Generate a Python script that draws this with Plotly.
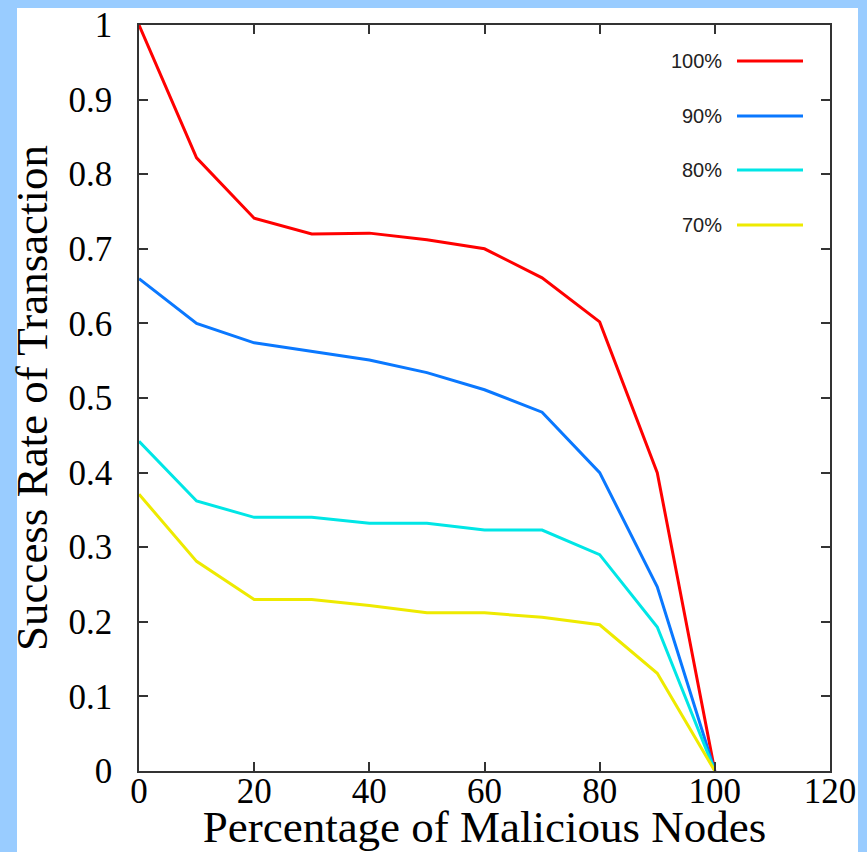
import plotly.graph_objects as go

x_pct = [0, 10, 20, 30, 40, 50, 60, 70, 80, 90, 100]
names = ["100%", "90%", "80%", "70%"]
s100 = [1.0, 0.822, 0.741, 0.72, 0.721, 0.712, 0.70, 0.661, 0.602, 0.40, 0.0]
s90 = [0.66, 0.60, 0.574, 0.562, 0.551, 0.534, 0.511, 0.481, 0.40, 0.247, 0.0]
s80 = [0.442, 0.362, 0.34, 0.34, 0.332, 0.332, 0.323, 0.323, 0.29, 0.193, 0.0]
s70 = [0.371, 0.281, 0.23, 0.23, 0.222, 0.212, 0.212, 0.206, 0.196, 0.131, 0.0]
colors = ["#ff0000", "#0a78ff", "#00e6e6", "#eeea00"]
series = [s100, s90, s80, s70]

W, H = 867, 852
L, R, T, B = 139, 37, 25, 81
pw, ph = W - L - R, H - T - B

def px2x(p):
    return (p - L) / pw

def py2y(p):
    return (H - B - p) / ph

fig = go.Figure()
for nm, ys, c in zip(names, series, colors):
    fig.add_trace(go.Scatter(x=x_pct, y=ys, mode="lines", name=nm,
                             line=dict(color=c, width=3), showlegend=False))

# white panel on blue page
fig.add_shape(type="rect", xref="paper", yref="paper",
              x0=px2x(17), x1=px2x(858), y0=py2y(852 + 5), y1=py2y(8),
              fillcolor="white", line=dict(width=0), layer="below")

# custom legend (text left of line)
leg_y = [61, 116, 170, 225]
for nm, c, yy in zip(names, colors, leg_y):
    fig.add_annotation(x=px2x(724), y=py2y(yy), xref="paper", yref="paper",
                       text=nm, showarrow=False, xanchor="right", yanchor="middle",
                       font=dict(family="Liberation Sans", size=20, color="#222"))
    fig.add_shape(type="line", xref="paper", yref="paper",
                  x0=px2x(737), x1=px2x(803), y0=py2y(yy), y1=py2y(yy),
                  line=dict(color=c, width=3))

axis_common = dict(
    showgrid=False, zeroline=False, showline=True, linecolor="#333", linewidth=1.5,
    mirror="ticks", ticks="inside", ticklen=9, tickcolor="#333", tickwidth=1.5,
    tickfont=dict(family="Liberation Serif", size=35, color="black"),
)

fig.update_layout(
    width=W, height=H,
    margin=dict(l=L, r=R, t=T, b=B, autoexpand=False),
    paper_bgcolor="#99ccff", plot_bgcolor="white",
    xaxis=dict(range=[0, 120], dtick=20, tick0=0, ticklabelstandoff=-12,
               title=dict(text="Percentage of Malicious Nodes", standoff=0,
                          font=dict(family="Liberation Serif", size=45, color="black")),
               **axis_common),
    yaxis=dict(range=[0, 1], dtick=0.1, tick0=0, ticklabelstandoff=18,
               title=dict(text="Success Rate of Transaction", standoff=7,
                          font=dict(family="Liberation Serif", size=45, color="black")),
               **axis_common),
)

fig.write_html("out.html", config={"displayModeBar": False},
               post_script="document.body.style.margin='0';document.body.style.overflow='hidden';")
